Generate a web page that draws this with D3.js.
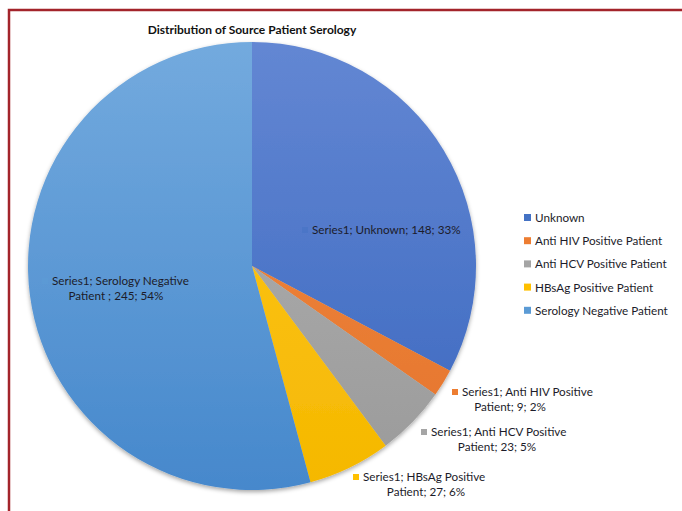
<!DOCTYPE html>
<html>
<head>
<meta charset="utf-8">
<script src="https://cdn.jsdelivr.net/npm/d3@7"></script>
<style>
body { margin:0; background:#fff; }
svg { display:block; font-family: Lato, "Open Sans", sans-serif; }
</style>
</head>
<body>
<svg width="682" height="511"></svg>
<script>
// data
var categories = ["Unknown", "Anti HIV Positive Patient", "Anti HCV Positive Patient", "HBsAg Positive Patient", "Serology Negative Patient"];
var values = [148, 9, 23, 27, 245];
var percents = ["33%", "2%", "5%", "6%", "54%"];
var colors = ["#4472c4", "#ed7d31", "#a5a5a5", "#ffc000", "#5b9bd5"];
var topColors = ["#6387d3", "#f08a45", "#b3b3b3", "#ffc824", "#73aade"];
var botColors = ["#3a67bf", "#e5742a", "#9a9a9a", "#f5b800", "#4688cc"];
// data label text lines
var labelLines = [
  ["Series1; Unknown; 148; 33%"],
  ["Series1; Anti HIV Positive", "Patient; 9; 2%"],
  ["Series1; Anti HCV Positive", "Patient; 23; 5%"],
  ["Series1; HBsAg Positive", "Patient; 27; 6%"],
  ["Series1; Serology Negative", "Patient ; 245; 54%"]
];

var svg = d3.select("svg");
var cx = 252, cy = 266, r = 224;

// frame
svg.append("rect")
  .attr("x", 9).attr("y", 10)
  .attr("width", 700).attr("height", 540)
  .attr("fill", "none")
  .attr("stroke", "#a3242b")
  .attr("stroke-width", 2.5);

var defs = svg.append("defs");
defs.append("filter").attr("id", "shadow")
  .attr("x", "-10%").attr("y", "-10%").attr("width", "120%").attr("height", "120%")
  .append("feDropShadow")
  .attr("dx", 0).attr("dy", 2).attr("stdDeviation", 2)
  .attr("flood-color", "#000").attr("flood-opacity", 0.35);

// vertical gradient per slice, in the pie's own coordinates
categories.forEach(function(c, i) {
  var g = defs.append("linearGradient")
    .attr("id", "grad" + i)
    .attr("gradientUnits", "userSpaceOnUse")
    .attr("x1", 0).attr("y1", -r).attr("x2", 0).attr("y2", r);
  g.append("stop").attr("offset", "0%").attr("stop-color", topColors[i]);
  g.append("stop").attr("offset", "100%").attr("stop-color", botColors[i]);
});

// title
svg.append("text")
  .attr("x", cx).attr("y", 34)
  .attr("text-anchor", "middle")
  .style("font-size", "12px")
  .style("font-weight", "bold")
  .attr("fill", "#111")
  .text("Distribution of Source Patient Serology");

var pie = d3.pie().sort(null).value(function(d) { return d; });
var arcs = pie(values);
var arc = d3.arc().innerRadius(0).outerRadius(r);

var pieG = svg.append("g")
  .attr("transform", "translate(" + cx + "," + cy + ")")
  .attr("filter", "url(#shadow)");

pieG.selectAll("path")
  .data(arcs)
  .enter().append("path")
  .attr("d", arc)
  .attr("fill", function(d, i) { return "url(#grad" + i + ")"; });

// data labels: x,y = where the first line starts (marker before it)
var labelPos = [
  {x: 312, y: 234, mid: 386},
  {x: 462, y: 396, mid: 510},
  {x: 431, y: 436, mid: 497},
  {x: 363, y: 481, mid: 426},
  {x: 52, y: 285, mid: 116}
];
var fs = 11.7;
var labels = svg.append("g").selectAll("g")
  .data(arcs).enter().append("g");

labels.append("rect")
  .attr("x", function(d, i) { return labelPos[i].x - 10; })
  .attr("y", function(d, i) { return labelPos[i].y - 7; })
  .attr("width", 6).attr("height", 6)
  .attr("fill", function(d, i) { return colors[i]; })
  .attr("opacity", function(d, i) { return (i === 0 || i === 4) ? 0.5 : 1; });

labels.each(function(d, i) {
  var g = d3.select(this);
  labelLines[i].forEach(function(line, k) {
    g.append("text")
      .attr("x", k === 0 ? labelPos[i].x : labelPos[i].mid)
      .attr("y", labelPos[i].y + k * 15)
      .attr("text-anchor", k === 0 ? "start" : "middle")
      .attr("fill", "#1c1c2a")
      .style("font-size", fs + "px")
      .text(line);
  });
});

// legend
var legendY = d3.scaleBand().domain(categories).range([210, 326]);
var legend = svg.append("g").selectAll("g")
  .data(categories).enter().append("g")
  .attr("transform", function(d) { return "translate(524," + legendY(d) + ")"; });
legend.append("rect")
  .attr("x", 0).attr("y", 4).attr("width", 7).attr("height", 7)
  .attr("fill", function(d, i) { return colors[i]; });
legend.append("text")
  .attr("x", 11).attr("y", 12)
  .attr("fill", "#1c1c2a")
  .style("font-size", fs + "px")
  .text(function(d) { return d; });
</script>
</body>
</html>
